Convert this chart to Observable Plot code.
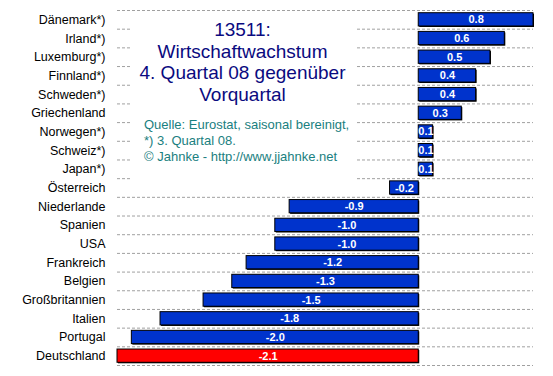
<!DOCTYPE html>
<html>
<head>
<meta charset="utf-8">
<script src="https://cdn.jsdelivr.net/npm/d3@7"></script>
<script src="https://cdn.jsdelivr.net/npm/@observablehq/plot@0.6"></script>
<style>
  html, body { margin: 0; padding: 0; background: #fff; }
  #wrap { position: relative; width: 553px; height: 376px; overflow: hidden; font-family: Arial, "Liberation Sans", sans-serif; }
  #box { position: absolute; left: 130px; top: 14px; width: 225px; height: 174px; background: #fff; }
  #title { position: absolute; left: 0; width: 100%; top: 5px; text-align: center; color: #0a0a80; font-size: 19px; line-height: 21.5px; }
  #source { position: absolute; left: 14px; top: 103px; color: #1a8080; font-size: 13px; line-height: 16px; white-space: nowrap; }
</style>
</head>
<body>
<div id="wrap">
  <div id="chart"></div>
  <div id="box">
    <div id="title"></div>
    <div id="source"></div>
  </div>
</div>
<script>
const countries = ["Dänemark*)", "Irland*)", "Luxemburg*)", "Finnland*)", "Schweden*)", "Griechenland", "Norwegen*)", "Schweiz*)", "Japan*)", "Österreich", "Niederlande", "Spanien", "USA", "Frankreich", "Belgien", "Großbritannien", "Italien", "Portugal", "Deutschland"];
const values = [0.8, 0.6, 0.5, 0.4, 0.4, 0.3, 0.1, 0.1, 0.1, -0.2, -0.9, -1.0, -1.0, -1.2, -1.3, -1.5, -1.8, -2.0, -2.1];
const highlight = "Deutschland";
const titleLines = ["13511:", "Wirtschaftwachstum", "4. Quartal 08 gegenüber", "Vorquartal"];
const sourceLines = ["Quelle: Eurostat, saisonal bereinigt,", "*) 3. Quartal 08.", "© Jahnke - http://www.jjahnke.net"];

const data = countries.map((c, i) => ({country: c, value: values[i], i}));

const chart = Plot.plot({
  width: 553,
  height: 376,
  marginTop: 10,
  marginBottom: 11,
  marginLeft: 117,
  marginRight: 20,
  x: {domain: [-2.1, 0.8], axis: null},
  y: {domain: [0, countries.length], range: [10, 365], axis: null},
  style: {fontFamily: "Arial, 'Liberation Sans', sans-serif", background: "white"},
  marks: [
    Plot.ruleY(d3.range(countries.length + 1), {stroke: "#a0a0a0", strokeDasharray: "3,2"}),
    Plot.rectX(data, {x1: 0, x2: "value", y1: d => d.i + 0.145, y2: d => d.i + 0.855, fill: "black", dx: 1, dy: 1}),
    Plot.rectX(data, {x1: 0, x2: "value", y1: d => d.i + 0.145, y2: d => d.i + 0.855,
      fill: d => d.country === highlight ? "#ff0000" : "#0033cc", stroke: "black", strokeWidth: 1}),
    Plot.text(data, {x: d => d.value / 2, y: d => d.i + 0.5, text: d => d.value.toFixed(1),
      fill: "white", fontWeight: "bold", fontSize: 11}),
    Plot.text(data, {frameAnchor: "left", y: d => d.i + 0.5, text: "country", textAnchor: "end",
      dx: -12, fontSize: 12.5, fill: "black"})
  ]
});
document.getElementById("chart").append(chart);
document.getElementById("title").innerHTML = titleLines.join("<br>");
document.getElementById("source").innerHTML = sourceLines.join("<br>");
</script>
</body>
</html>
